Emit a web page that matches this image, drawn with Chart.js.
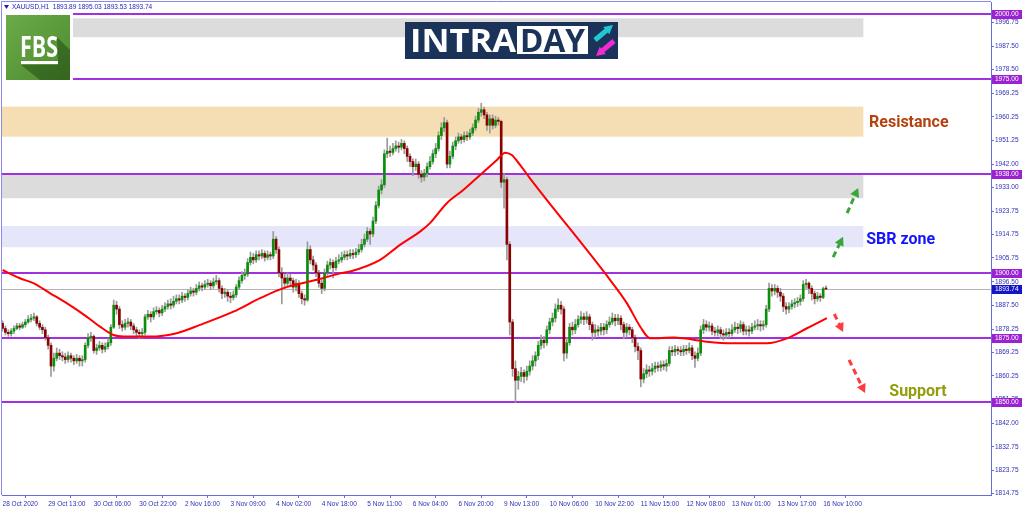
<!DOCTYPE html>
<html>
<head>
<meta charset="utf-8">
<title>XAUUSD H1</title>
<script src="https://cdn.jsdelivr.net/npm/chart.js@4.4.1/dist/chart.umd.min.js"></script>
<style>
  html, body { margin: 0; padding: 0; background: #fff; }
  #wrap { width: 1024px; height: 511px; }
</style>
</head>
<body>
<div id="wrap"><canvas id="xau" width="1024" height="511"></canvas></div>
<script>
// === XAUUSD H1 data ===

const firstOpen = 1880.5;

const closes = [
  1878.5, 1877, 1876.5, 1877.5, 1878.5, 1879.5, 1879, 1880, 1881, 1882,
  1882.5, 1883, 1880.5, 1879, 1878, 1875, 1872, 1864, 1867, 1869,
  1868, 1867.5, 1866.5, 1868, 1867, 1866, 1867, 1866, 1866.5, 1872,
  1875, 1875.5, 1870, 1871, 1872, 1870.5, 1871.5, 1873, 1879, 1887.5,
  1886, 1880, 1879, 1880.5, 1881, 1879.5, 1878, 1877, 1876.5, 1877,
  1883, 1884, 1883, 1885, 1885.5, 1884.5, 1886, 1887, 1888, 1887.5,
  1889, 1890, 1889.5, 1891, 1890.5, 1892, 1893, 1892.5, 1894, 1895,
  1894.5, 1895.5, 1896, 1895, 1896.5, 1897, 1894, 1892, 1892.5, 1891,
  1890.5, 1891.5, 1894.5, 1897, 1899, 1899.5, 1904, 1906, 1905, 1907,
  1906.5, 1907.5, 1906, 1907, 1906.5, 1913, 1909, 1900, 1898, 1896,
  1898, 1897, 1894.5, 1896, 1892, 1890, 1889.5, 1909, 1905, 1903,
  1900, 1896, 1894, 1900, 1903, 1904, 1902, 1904.5, 1905, 1906,
  1907, 1906.5, 1907.5, 1907, 1908, 1909, 1911, 1913, 1916, 1915,
  1920, 1926, 1932, 1934, 1946, 1947, 1946.5, 1948, 1949, 1948.5,
  1950, 1948, 1945, 1943, 1941, 1942, 1938, 1937, 1938.5, 1941,
  1943, 1946, 1948, 1953, 1956, 1958, 1942, 1945, 1949, 1951,
  1952.5, 1951.5, 1953, 1952.5, 1954, 1956, 1959, 1962, 1963, 1961,
  1957, 1959.5, 1957, 1959, 1958.5, 1935, 1936, 1911, 1881, 1863,
  1858.5, 1860, 1861.5, 1860, 1862, 1864, 1866, 1868, 1872, 1874,
  1873, 1878, 1881, 1882.5, 1886, 1887.5, 1886, 1869, 1873, 1879,
  1878, 1880, 1882, 1883, 1882, 1883, 1880, 1877, 1878, 1877.5,
  1879, 1878, 1880, 1881, 1882.5, 1881.5, 1882.5, 1880, 1877, 1879,
  1878, 1875, 1871.5, 1870, 1859, 1861, 1862.5, 1862, 1863, 1864,
  1863.5, 1864.5, 1864, 1865, 1870, 1869.5, 1870.5, 1870, 1869.5, 1870.5,
  1870, 1871, 1868, 1867, 1869, 1878, 1880, 1879, 1879.5, 1877.5,
  1877, 1878, 1876.5, 1876, 1877, 1876.5, 1878, 1879, 1878.5, 1880,
  1877.5, 1878, 1877.5, 1879, 1879.5, 1880, 1879.5, 1880, 1886, 1894,
  1893, 1894, 1892.5, 1891, 1887, 1886, 1887, 1888, 1888.5, 1889,
  1890, 1895.5, 1896, 1894, 1892, 1890, 1891, 1890.5, 1893.89, 1893.74
];

const highs = [
  1881.5, 1879.5, 1878, 1878.5, 1879.5, 1880.5, 1880.5, 1881, 1882, 1883.5,
  1884, 1884.5, 1883.5, 1881.5, 1880, 1879, 1876, 1873, 1869, 1871,
  1870.5, 1869.5, 1869, 1869.5, 1869, 1868, 1868.5, 1868, 1868, 1873,
  1876.5, 1877, 1876, 1872.5, 1873.5, 1873, 1873, 1874.5, 1880, 1889.5,
  1889, 1887, 1881.5, 1882, 1882.5, 1882, 1880.5, 1879, 1878, 1878.5,
  1884, 1885.5, 1885, 1886.5, 1887, 1886.5, 1887.5, 1888.5, 1889.5, 1890,
  1891, 1891.5, 1891.5, 1892.5, 1892, 1893.5, 1894.5, 1894, 1895.5, 1896.5,
  1896, 1897, 1897.5, 1897, 1898, 1899, 1898, 1895, 1894, 1893.5,
  1892.5, 1893, 1895.5, 1898.5, 1900.5, 1901.5, 1905.5, 1908, 1907.5, 1908.5,
  1908.5, 1909, 1908.5, 1908.5, 1908, 1916, 1914, 1910, 1902, 1899.5,
  1900, 1899.5, 1898, 1897.5, 1897, 1893, 1891.5, 1912, 1910.5, 1906.5,
  1904, 1901, 1897.5, 1901.5, 1904.5, 1905.5, 1905, 1906, 1907, 1908,
  1908.5, 1908.5, 1909, 1909, 1909.5, 1911, 1913, 1915, 1917.5, 1917,
  1921.5, 1927.5, 1933.5, 1936, 1947.5, 1952, 1949, 1950, 1951, 1950.5,
  1951.5, 1951, 1949, 1946, 1944, 1944, 1943, 1939.5, 1940, 1942.5,
  1945, 1947.5, 1950, 1954.5, 1958, 1960, 1959, 1947, 1950.5, 1952.5,
  1954, 1953.5, 1954.5, 1954.5, 1955.5, 1957.5, 1960.5, 1963.5, 1965.5, 1964,
  1962, 1961, 1961, 1960.5, 1960, 1959, 1938.5, 1937, 1912, 1882,
  1866, 1862, 1863.5, 1862.5, 1864, 1866, 1868, 1869.5, 1873.5, 1876,
  1875.5, 1879.5, 1882.5, 1884.5, 1888, 1890, 1889, 1887, 1875, 1880.5,
  1881, 1882, 1883.5, 1885, 1884.5, 1885, 1884, 1881, 1880, 1879.5,
  1880.5, 1880.5, 1881.5, 1883, 1884.5, 1884, 1884, 1883.5, 1881, 1880.5,
  1880, 1879, 1876, 1873, 1871, 1863, 1864.5, 1864, 1865, 1865.5,
  1865.5, 1866, 1866, 1866.5, 1871.5, 1871.5, 1872, 1871.5, 1871.5, 1872,
  1872, 1873, 1872, 1869.5, 1871, 1879.5, 1882, 1881.5, 1881, 1880.5,
  1879, 1879.5, 1879, 1878, 1878.5, 1878.5, 1880, 1881, 1880.5, 1881.5,
  1881, 1879.5, 1879.5, 1880.5, 1881.5, 1882, 1881.5, 1881.5, 1887.5, 1896,
  1895.5, 1895.5, 1895, 1894, 1892, 1888.5, 1888.5, 1889.5, 1890, 1890.5,
  1891.5, 1897, 1897.5, 1896.5, 1895, 1893, 1892.5, 1892, 1894.5, 1895.03
];

const lows = [
  1877.5, 1876, 1875.5, 1875.5, 1876.5, 1878, 1878, 1878.5, 1879, 1880.5,
  1881, 1881.5, 1879.5, 1878, 1876.5, 1874, 1870.5, 1860, 1862, 1866,
  1866.5, 1866, 1865, 1865.5, 1865.5, 1864.5, 1865, 1864, 1864, 1865.5,
  1871, 1873.5, 1869, 1868.5, 1870, 1869, 1869.5, 1870.5, 1872, 1878.5,
  1884, 1878.5, 1877.5, 1878, 1879, 1878, 1876.5, 1875.5, 1874.5, 1875,
  1876, 1882, 1881, 1882, 1884, 1883, 1883.5, 1885, 1886, 1886,
  1886.5, 1888, 1888, 1888.5, 1889, 1889.5, 1891, 1891, 1891.5, 1893,
  1893, 1893.5, 1894.5, 1893.5, 1894, 1895.5, 1892.5, 1890, 1890.5, 1889,
  1888.5, 1889.5, 1890.5, 1893.5, 1896, 1897.5, 1898.5, 1903, 1903.5, 1904,
  1905, 1905.5, 1904.5, 1905, 1905, 1905.5, 1907.5, 1898.5, 1888, 1894,
  1895, 1895, 1892.5, 1893, 1890.5, 1888, 1887.5, 1889, 1903.5, 1901,
  1898.5, 1894.5, 1892, 1893, 1899, 1901.5, 1898, 1901, 1903.5, 1904,
  1905, 1905, 1905.5, 1905.5, 1906, 1907, 1908, 1910, 1912, 1911,
  1914, 1919, 1925, 1930.5, 1933, 1944.5, 1945, 1945.5, 1947, 1946.5,
  1947.5, 1946, 1943, 1941, 1937.5, 1939.5, 1936.5, 1935, 1935.5, 1937,
  1940, 1942, 1944.5, 1947, 1951.5, 1954.5, 1940.5, 1940.5, 1944, 1947.5,
  1950, 1950, 1950.5, 1951, 1951.5, 1953, 1955, 1958, 1960.5, 1959.5,
  1955, 1954, 1955.5, 1956, 1957, 1933, 1925, 1905, 1876, 1860,
  1850, 1855, 1858, 1857.5, 1858.5, 1860.5, 1862.5, 1864, 1866.5, 1870.5,
  1871, 1872, 1876.5, 1879.5, 1881, 1885, 1884, 1866, 1867, 1872,
  1876, 1876.5, 1879, 1880.5, 1880, 1880.5, 1878, 1874, 1875, 1875.5,
  1876, 1876, 1876.5, 1879, 1880, 1879.5, 1880, 1878, 1874.5, 1875,
  1876, 1873, 1869.5, 1866.5, 1856, 1857.5, 1859.5, 1860, 1860.5, 1861.5,
  1862, 1862, 1862.5, 1862, 1864, 1868, 1868, 1868.5, 1868, 1868,
  1868.5, 1869, 1866.5, 1863.5, 1866, 1868, 1876.5, 1877.5, 1877.5, 1876,
  1875.5, 1875.5, 1874.5, 1874, 1874.5, 1875, 1875.5, 1877, 1876.5, 1877,
  1876, 1876, 1875.5, 1876.5, 1878, 1878, 1877.5, 1878, 1879, 1885,
  1891, 1891.5, 1890.5, 1889, 1885, 1884, 1884.5, 1886, 1886.5, 1887,
  1887.5, 1889, 1894, 1892, 1889.5, 1888, 1889, 1889, 1890, 1893.53
];

// moving average, read at a few bar positions
const maBars = [0, 6.1, 10.8, 16.7, 22.5, 29.5, 34.2, 38.9, 42.4, 51.8, 61.1, 69.3, 81, 90.4, 98.6,
  110.3, 118.5, 122, 132.5, 139.5, 146.5, 150, 155.9, 161.7, 167.6, 173.5, 176.4, 178.7, 181.6,
  185.1, 213.2, 219.1, 223.8, 227.3, 235.5, 239, 247.2, 256.5, 268.2, 275.3, 282.3, 289.3];
const maValues = [1901.1, 1897.9, 1896.0, 1892.1, 1888.3, 1883.1, 1879.2, 1876.0, 1875.4, 1875.4,
  1876.7, 1879.9, 1885.0, 1890.2, 1894.1, 1897.3, 1899.8, 1900.5, 1905.0, 1910.8, 1915.9, 1919.2,
  1926.9, 1932.0, 1937.8, 1943.6, 1946.4, 1945.5, 1941.7, 1936.5, 1897.3, 1888.3, 1879.2, 1874.7,
  1875.0, 1874.7, 1873.4, 1872.8, 1872.8, 1874.7, 1878.6, 1882.5];

const xLabels = ['28 Oct 2020', '29 Oct 13:00', '30 Oct 06:00', '30 Oct 22:00', '2 Nov 16:00',
  '3 Nov 09:00', '4 Nov 02:00', '4 Nov 18:00', '5 Nov 11:00', '6 Nov 04:00', '6 Nov 20:00',
  '9 Nov 13:00', '10 Nov 06:00', '10 Nov 22:00', '11 Nov 15:00', '12 Nov 08:00', '13 Nov 01:00',
  '13 Nov 17:00', '16 Nov 10:00'];

const yTicks = [1996.75, 1987.50, 1978.50, 1969.25, 1960.25, 1951.25, 1942.00, 1933.00, 1923.75,
  1914.75, 1905.75, 1896.50, 1887.50, 1878.25, 1869.25, 1860.25, 1851.25, 1842.00, 1832.75,
  1823.75, 1814.75];

const levelPrices = [2000, 1975, 1938, 1900, 1875, 1850];
const lastPrice = 1893.74;

// === drawing objects (in bar / price units) ===
const zones = [
  { from: 24.7, to: 302.1, top: 1998.3, bottom: 1991.0, color: '#dcdcdc' },
  { from: -0.2, to: 302.1, top: 1964.2, bottom: 1952.6, color: '#f5deb3' },
  { from: -0.2, to: 302.1, top: 1937.8, bottom: 1928.8, color: '#dcdcdc' },
  { from: -0.2, to: 302.1, top: 1918.1, bottom: 1909.9, color: '#e6e6fa' }
];
const levelStarts = [24.7, 24.7, -0.2, -0.2, -0.2, -0.2];

const arrows = [
  { x1: 291.5, y1: 1906.1, x2: 295.0, y2: 1913.9, color: '#3aa63a' },
  { x1: 296.4, y1: 1923.1, x2: 300.3, y2: 1932.8, color: '#3aa63a' },
  { x1: 291.9, y1: 1884.1, x2: 295.0, y2: 1877.2, color: '#ff3b3b' },
  { x1: 297.1, y1: 1866.4, x2: 302.7, y2: 1853.6, color: '#ff3b3b' }
];
const notes = [
  { text: 'Resistance', x: 304.1, y: 1956.4, color: '#b5420e' },
  { text: 'SBR zone', x: 303.1, y: 1911.2, color: '#1414ff' },
  { text: 'Support', x: 311.2, y: 1852.3, color: '#949c0c' }
];

const X_MIN = -0.2, X_MAX = 346.9;
const Y_MIN = 1814.2, Y_MAX = 2004.6;
const AXIS = '#6a6ae0';
const LABEL = '#2f2fb4';
const LEVEL_COLOR = '#a030e0';

const opens = closes.map((c, i) => i === 0 ? firstOpen : closes[i - 1]);
const xTickBars = xLabels.map((_, i) => i * 16);

// === helpers ===
function fitText(ctx, text, x, y, width) {
  const w = ctx.measureText(text).width;
  ctx.save();
  ctx.translate(x, y);
  ctx.scale(width / w, 1);
  ctx.fillText(text, 0, 0);
  ctx.restore();
}

function drawFbs(ctx) {
  const g = ctx.createLinearGradient(6, 15, 70, 80);
  g.addColorStop(0, '#6cab4b');
  g.addColorStop(1, '#4c8a2e');
  ctx.fillStyle = g;
  ctx.fillRect(6, 15, 64, 65);
  ctx.fillStyle = 'rgba(25,60,10,0.45)';
  ctx.beginPath();
  ctx.moveTo(57, 37); ctx.lineTo(70, 50); ctx.lineTo(70, 80);
  ctx.lineTo(40, 80); ctx.lineTo(21, 65); ctx.lineTo(58, 65);
  ctx.closePath();
  ctx.fill();
  ctx.fillStyle = '#fff';
  ctx.font = 'bold 28px "Open Sans"';
  ctx.textAlign = 'left';
  ctx.textBaseline = 'alphabetic';
  fitText(ctx, 'FBS', 20, 57, 38);
  ctx.fillRect(21, 61, 37, 3);
}

function arrowShape(ctx, x1, y1, x2, y2, color, w, head) {
  const a = Math.atan2(y2 - y1, x2 - x1);
  ctx.strokeStyle = color;
  ctx.fillStyle = color;
  ctx.lineWidth = w;
  ctx.beginPath();
  ctx.moveTo(x1, y1);
  ctx.lineTo(x2 - Math.cos(a) * head * 0.8, y2 - Math.sin(a) * head * 0.8);
  ctx.stroke();
  ctx.setLineDash([]);
  ctx.beginPath();
  ctx.moveTo(x2, y2);
  ctx.lineTo(x2 - Math.cos(a - 0.5) * head, y2 - Math.sin(a - 0.5) * head);
  ctx.lineTo(x2 - Math.cos(a + 0.5) * head, y2 - Math.sin(a + 0.5) * head);
  ctx.closePath();
  ctx.fill();
}

function drawIntraday(ctx) {
  ctx.fillStyle = '#1b3359';
  ctx.fillRect(405, 22, 213, 37);
  ctx.fillStyle = '#fff';
  ctx.fillRect(517, 26, 71, 28);
  ctx.font = 'bold 33px "Open Sans"';
  ctx.textAlign = 'left';
  ctx.textBaseline = 'alphabetic';
  fitText(ctx, 'INTRA', 410, 52, 106);
  ctx.fillStyle = '#1b3359';
  fitText(ctx, 'DAY', 520, 52, 65);
  ctx.setLineDash([]);
  arrowShape(ctx, 595, 40, 613, 25, '#1fc8d2', 5, 10);
  arrowShape(ctx, 614, 41, 596, 56, '#f02bd2', 5, 10);
}

// === plugin: MT4-style objects ===
const mtObjects = {
  id: 'mtObjects',
  beforeDatasetsDraw(chart) {
    const { ctx, chartArea: a, scales: { x, y } } = chart;
    ctx.save();
    ctx.beginPath();
    ctx.rect(a.left, a.top, a.right - a.left, a.bottom - a.top);
    ctx.clip();
    zones.forEach(z => {
      const x1 = x.getPixelForValue(z.from), x2 = x.getPixelForValue(z.to);
      const y1 = y.getPixelForValue(z.top), y2 = y.getPixelForValue(z.bottom);
      ctx.fillStyle = z.color;
      ctx.fillRect(x1, y1, x2 - x1, y2 - y1);
    });
    ctx.strokeStyle = '#b4b4b4';
    ctx.lineWidth = 1;
    const ly = Math.round(y.getPixelForValue(lastPrice)) + 0.5;
    ctx.beginPath(); ctx.moveTo(a.left, ly); ctx.lineTo(a.right, ly); ctx.stroke();
    ctx.strokeStyle = LEVEL_COLOR;
    ctx.lineWidth = 2;
    levelPrices.forEach((p, i) => {
      const py = Math.round(y.getPixelForValue(p));
      ctx.beginPath();
      ctx.moveTo(x.getPixelForValue(levelStarts[i]), py);
      ctx.lineTo(a.right, py);
      ctx.stroke();
    });
    ctx.restore();
  },
  afterDatasetsDraw(chart) {
    const { ctx, scales: { x, y } } = chart;
    ctx.save();
    arrows.forEach(ar => {
      ctx.setLineDash([6, 4]);
      arrowShape(ctx, x.getPixelForValue(ar.x1), y.getPixelForValue(ar.y1),
        x.getPixelForValue(ar.x2), y.getPixelForValue(ar.y2), ar.color, 3, 10);
    });
    ctx.setLineDash([]);
    ctx.font = 'bold 16px Roboto';
    ctx.textAlign = 'left';
    ctx.textBaseline = 'alphabetic';
    notes.forEach(n => {
      ctx.fillStyle = n.color;
      ctx.fillText(n.text, x.getPixelForValue(n.x), y.getPixelForValue(n.y));
    });
    ctx.restore();
  },
  afterDraw(chart) {
    const { ctx, chartArea: a, scales: { y } } = chart;
    ctx.save();
    // frame
    ctx.strokeStyle = '#8a8aee';
    ctx.lineWidth = 1;
    ctx.beginPath();
    ctx.moveTo(1.5, a.bottom); ctx.lineTo(1.5, 1.5); ctx.lineTo(a.right, 1.5);
    ctx.stroke();
    // header
    ctx.fillStyle = '#1e1eb4';
    ctx.beginPath(); ctx.moveTo(4, 5); ctx.lineTo(9, 5); ctx.lineTo(6.5, 9); ctx.closePath(); ctx.fill();
    ctx.font = '6.5px "Liberation Sans"';
    ctx.textBaseline = 'middle';
    ctx.textAlign = 'left';
    ctx.fillText('XAUUSD,H1  1893.89 1895.03 1893.53 1893.74', 12, 7.5);
    // level boxes on the price axis
    const boxes = levelPrices.map(p => ({ p, bg: '#9a22d0' })).concat([{ p: lastPrice, bg: '#1414c8' }]);
    boxes.forEach(b => {
      const py = Math.round(y.getPixelForValue(b.p));
      ctx.fillStyle = b.bg;
      ctx.fillRect(a.right + 1, py - 4, 30, 9);
      ctx.fillStyle = '#fff';
      ctx.fillText(b.p.toFixed(2), a.right + 4, py + 0.5);
    });
    drawFbs(ctx);
    drawIntraday(ctx);
    ctx.restore();
  }
};

// === chart ===
const wickData = closes.map((c, i) => ({ x: i, y: [lows[i], highs[i]] }));
const bodyData = closes.map((c, i) => ({ x: i, y: [opens[i], c] }));
const bodyColors = closes.map((c, i) => c >= opens[i] ? '#0a8f0a' : '#8b0000');
const maData = maBars.map((b, i) => ({ x: b, y: maValues[i] }));

new Chart(document.getElementById('xau'), {
  type: 'bar',
  data: {
    datasets: [
      {
        type: 'line', label: 'MA', data: maData, order: 0,
        borderColor: '#ff0000', borderWidth: 2, pointRadius: 0,
        cubicInterpolationMode: 'monotone', fill: false
      },
      {
        label: 'body', data: bodyData, order: 1, grouped: false,
        backgroundColor: bodyColors, barThickness: 2, minBarLength: 1, borderWidth: 0
      },
      {
        label: 'wick', data: wickData, order: 2, grouped: false,
        backgroundColor: '#9a9a9a', barThickness: 1, borderWidth: 0
      }
    ]
  },
  options: {
    responsive: false,
    animation: false,
    devicePixelRatio: 1,
    layout: { padding: { left: 2, top: 2, right: 0, bottom: 0 } },
    plugins: { legend: { display: false }, tooltip: { enabled: false } },
    scales: {
      x: {
        type: 'linear', min: X_MIN, max: X_MAX, offset: false, bounds: 'data',
        afterFit: s => { s.height = 16; s.paddingLeft = 0; s.paddingRight = 0; },
        afterBuildTicks: s => { s.ticks = xTickBars.map(v => ({ value: v })); },
        grid: { drawOnChartArea: false, tickLength: 3, color: AXIS },
        border: { color: AXIS },
        ticks: {
          autoSkip: false, maxRotation: 0, align: 'start', padding: 2, color: LABEL,
          font: { family: 'Liberation Sans', size: 6.5 },
          callback: (v, i) => xLabels[i]
        }
      },
      y: {
        type: 'linear', position: 'right', min: Y_MIN, max: Y_MAX, bounds: 'data',
        afterFit: s => { s.width = 33; s.paddingTop = 0; s.paddingBottom = 0; },
        afterBuildTicks: s => { s.ticks = yTicks.map(v => ({ value: v })); },
        grid: { drawOnChartArea: false, tickLength: 3, color: AXIS },
        border: { color: AXIS },
        ticks: {
          padding: 1, color: LABEL,
          font: { family: 'Liberation Sans', size: 6.5, lineHeight: 0.5 },
          callback: v => Number(v).toFixed(2)
        }
      }
    }
  },
  plugins: [mtObjects]
});
</script>
</body>
</html>
